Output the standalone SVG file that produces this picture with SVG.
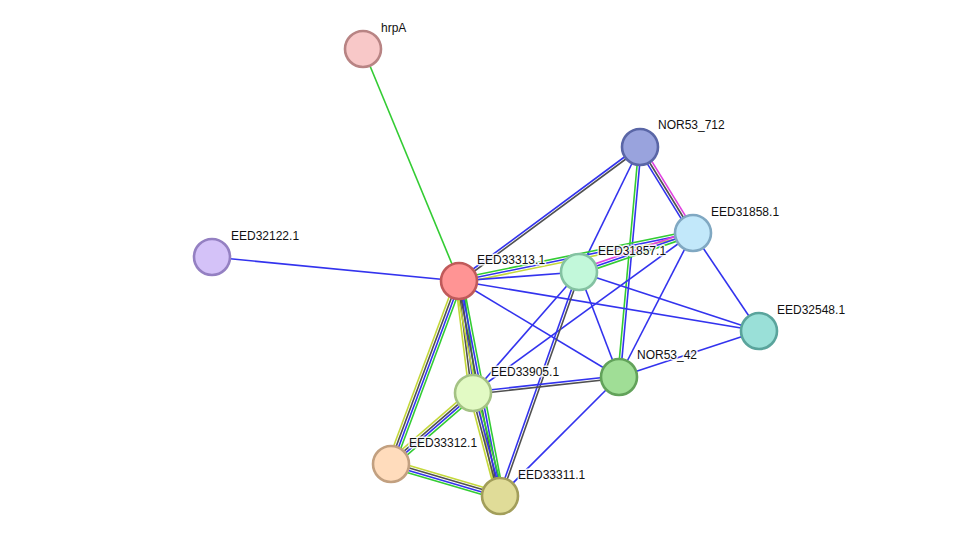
<svg xmlns="http://www.w3.org/2000/svg" width="976" height="542" viewBox="0 0 976 542">
<style>
line{stroke-width:1.6;fill:none}
.b{stroke:#3333ee}
.g{stroke:#33cc33}
.k{stroke:#505050}
.y{stroke:#c4d83a}
.m{stroke:#e040e0}
circle{stroke-width:2.6}
text{font-family:"Liberation Sans",Arial,sans-serif;font-size:12px;fill:#111;stroke:#fff;stroke-width:3;stroke-opacity:0.85;paint-order:stroke;stroke-linejoin:round}
</style>
<rect width="976" height="542" fill="#fff"/>
<g id="edges">
<line class="g" x1="363" y1="49" x2="459" y2="281"/>
<line class="b" x1="212" y1="257" x2="459" y2="281"/>
<line class="b" x1="639.26" y1="146" x2="458.26" y2="280"/>
<line class="k" x1="640.74" y1="148" x2="459.74" y2="282"/>
<line class="g" x1="638.75" y1="146.9" x2="617.75" y2="376.9"/>
<line class="b" x1="641.25" y1="147.1" x2="620.25" y2="377.1"/>
<line class="b" x1="637.87" y1="148.31" x2="690.87" y2="234.31"/>
<line class="k" x1="640" y1="147" x2="693" y2="233"/>
<line class="m" x1="642.13" y1="145.69" x2="695.13" y2="231.69"/>
<line class="b" x1="640" y1="147" x2="579" y2="272"/>
<line class="g" x1="458.5" y1="278.55" x2="692.5" y2="230.55"/>
<line class="b" x1="459" y1="281" x2="693" y2="233"/>
<line class="y" x1="459.5" y1="283.45" x2="693.5" y2="235.45"/>
<line class="b" x1="459" y1="281" x2="579" y2="272"/>
<line class="m" x1="578.19" y1="269.63" x2="692.19" y2="230.63"/>
<line class="b" x1="579" y1="272" x2="693" y2="233"/>
<line class="g" x1="579.81" y1="274.37" x2="693.81" y2="235.37"/>
<line class="b" x1="459" y1="281" x2="759" y2="331"/>
<line class="b" x1="459" y1="281" x2="619" y2="377"/>
<line class="b" x1="579" y1="272" x2="473" y2="393"/>
<line class="b" x1="579" y1="272" x2="619" y2="377"/>
<line class="b" x1="579" y1="272" x2="759" y2="331"/>
<line class="b" x1="693" y1="233" x2="759" y2="331"/>
<line class="b" x1="693" y1="233" x2="619" y2="377"/>
<line class="b" x1="693" y1="233" x2="473" y2="393"/>
<line class="b" x1="619" y1="377" x2="759" y2="331"/>
<line class="b" x1="619" y1="377" x2="500" y2="496"/>
<line class="b" x1="577.82" y1="271.58" x2="498.82" y2="495.58"/>
<line class="k" x1="580.18" y1="272.42" x2="501.18" y2="496.42"/>
<line class="b" x1="618.86" y1="375.76" x2="472.86" y2="391.76"/>
<line class="k" x1="619.14" y1="378.24" x2="473.14" y2="394.24"/>
<line class="y" x1="455.48" y1="279.69" x2="387.48" y2="462.69"/>
<line class="k" x1="457.83" y1="280.57" x2="389.83" y2="463.57"/>
<line class="b" x1="460.17" y1="281.44" x2="392.17" y2="464.44"/>
<line class="g" x1="462.52" y1="282.31" x2="394.52" y2="465.31"/>
<line class="y" x1="455.28" y1="281.47" x2="469.28" y2="393.47"/>
<line class="k" x1="457.76" y1="281.16" x2="471.76" y2="393.16"/>
<line class="b" x1="460.24" y1="280.85" x2="474.24" y2="392.85"/>
<line class="g" x1="462.72" y1="280.54" x2="476.72" y2="392.54"/>
<line class="y" x1="455.32" y1="281.7" x2="496.32" y2="496.7"/>
<line class="k" x1="457.77" y1="281.23" x2="498.77" y2="496.23"/>
<line class="b" x1="460.23" y1="280.77" x2="501.23" y2="495.77"/>
<line class="g" x1="462.68" y1="280.3" x2="503.68" y2="495.3"/>
<line class="y" x1="469.37" y1="393.95" x2="496.37" y2="496.95"/>
<line class="k" x1="471.79" y1="393.32" x2="498.79" y2="496.32"/>
<line class="b" x1="474.21" y1="392.68" x2="501.21" y2="495.68"/>
<line class="g" x1="476.63" y1="392.05" x2="503.63" y2="495.05"/>
<line class="y" x1="470.55" y1="390.17" x2="388.55" y2="461.17"/>
<line class="k" x1="472.18" y1="392.06" x2="390.18" y2="463.06"/>
<line class="b" x1="473.82" y1="393.95" x2="391.82" y2="464.95"/>
<line class="g" x1="475.45" y1="395.83" x2="393.45" y2="466.83"/>
<line class="y" x1="392.06" y1="460.4" x2="501.06" y2="492.4"/>
<line class="k" x1="391.35" y1="462.8" x2="500.35" y2="494.8"/>
<line class="b" x1="390.65" y1="465.2" x2="499.65" y2="497.2"/>
<line class="g" x1="389.94" y1="467.6" x2="498.94" y2="499.6"/>
</g>
<g id="hrpA"><circle cx="363" cy="49" r="18" fill="#f8c8c8" stroke="#b88484"/><text x="381" y="32">hrpA</text></g>
<g id="NOR53_712"><circle cx="640" cy="147" r="18" fill="#99a3dd" stroke="#5a66a6"/><text x="658" y="129">NOR53_712</text></g>
<g id="EED31858.1"><circle cx="693" cy="233" r="18" fill="#c2e8fa" stroke="#80a8c2"/><text x="711" y="216">EED31858.1</text></g>
<g id="EED32122.1"><circle cx="212" cy="257" r="18" fill="#d4c2f8" stroke="#9480c2"/><text x="231" y="240">EED32122.1</text></g>
<g id="EED33313.1"><circle cx="459" cy="281" r="18" fill="#ff9494" stroke="#c05a5a"/><text x="477" y="264">EED33313.1</text></g>
<g id="EED31857.1"><circle cx="579" cy="272" r="18" fill="#c2f8da" stroke="#84c2a2"/><text x="598" y="255">EED31857.1</text></g>
<g id="EED32548.1"><circle cx="759" cy="331" r="18" fill="#9ae0d8" stroke="#5aa49c"/><text x="777" y="314">EED32548.1</text></g>
<g id="NOR53_42"><circle cx="619" cy="377" r="18" fill="#a0de96" stroke="#62a25a"/><text x="637" y="359">NOR53_42</text></g>
<g id="EED33905.1"><circle cx="473" cy="393" r="18" fill="#e2fac4" stroke="#a4c284"/><text x="491" y="376">EED33905.1</text></g>
<g id="EED33312.1"><circle cx="391" cy="464" r="18" fill="#ffdcbc" stroke="#c2a080"/><text x="409" y="447">EED33312.1</text></g>
<g id="EED33311.1"><circle cx="500" cy="496" r="18" fill="#e0dc98" stroke="#a29e5a"/><text x="518" y="479">EED33311.1</text></g>
</svg>
